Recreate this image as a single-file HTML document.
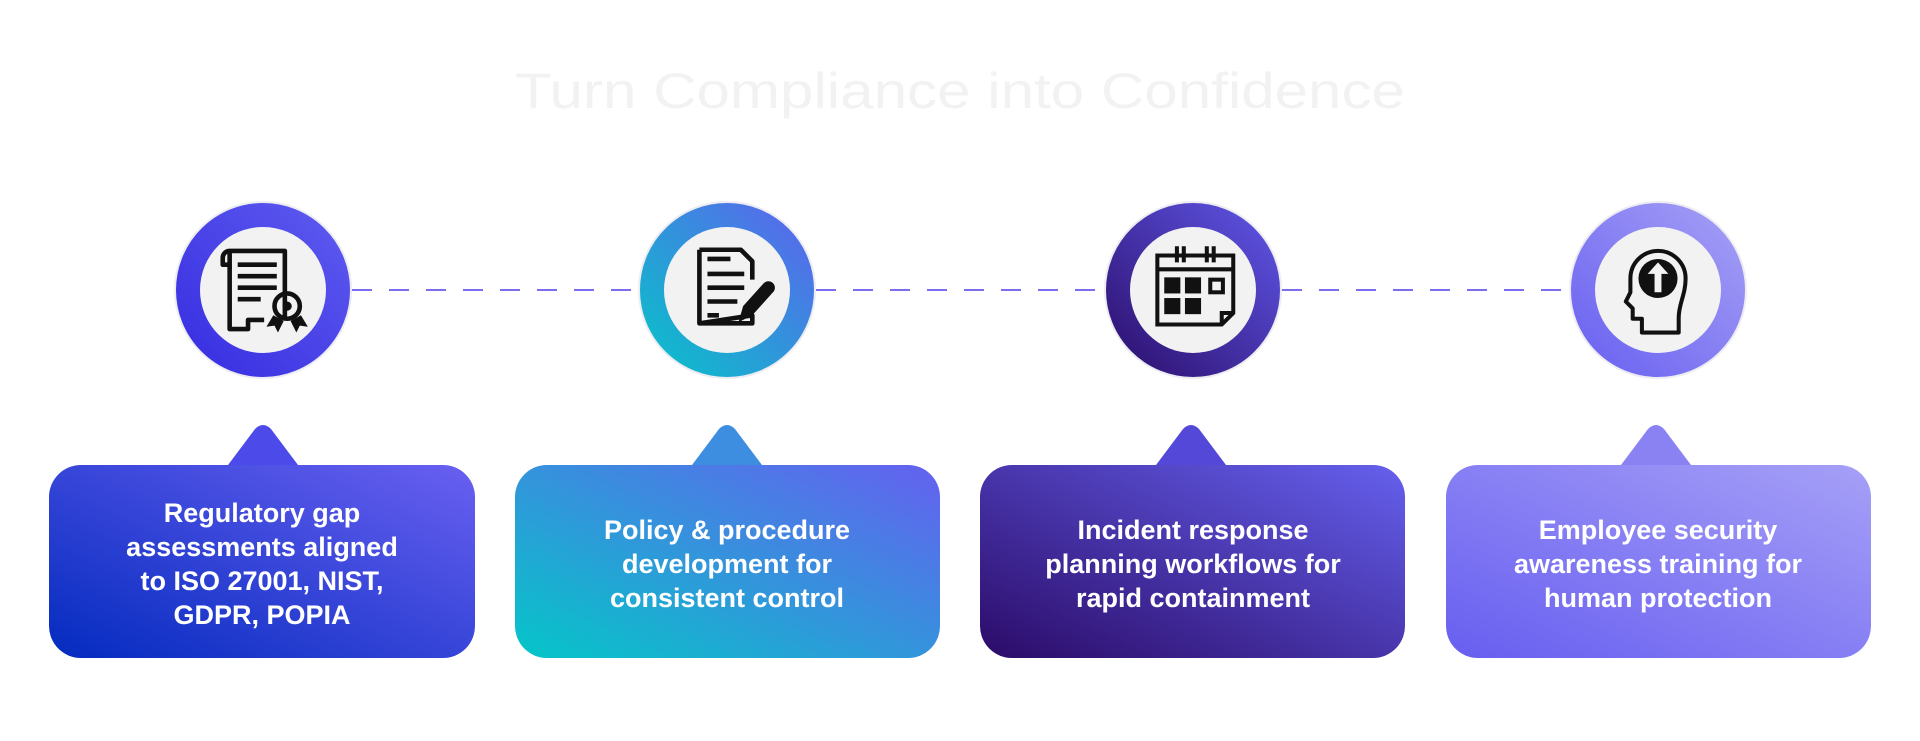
<!DOCTYPE html>
<html><head><meta charset="utf-8"><style>
html,body{margin:0;padding:0;background:#fff;width:1920px;height:741px;overflow:hidden}
svg{display:block}
</style></head><body>
<svg width="1920" height="741" viewBox="0 0 1920 741" xmlns="http://www.w3.org/2000/svg">
<defs>
<linearGradient id="c1" x1="1" y1="0" x2="0" y2="1"><stop offset="0" stop-color="#5f5cf0"/><stop offset="1" stop-color="#352ce0"/></linearGradient>
<linearGradient id="b1" x1="0" y1="1" x2="1" y2="0"><stop offset="0" stop-color="#042bbf"/><stop offset="1" stop-color="#6960f1"/></linearGradient>
<linearGradient id="c2" x1="1" y1="0" x2="0" y2="1"><stop offset="0" stop-color="#6060ef"/><stop offset="1" stop-color="#04c6c8"/></linearGradient>
<linearGradient id="b2" x1="0" y1="1" x2="1" y2="0"><stop offset="0" stop-color="#04c6c8"/><stop offset="1" stop-color="#6560f0"/></linearGradient>
<linearGradient id="c3" x1="1" y1="0" x2="0" y2="1"><stop offset="0" stop-color="#6159eb"/><stop offset="1" stop-color="#2a0c68"/></linearGradient>
<linearGradient id="b3" x1="0" y1="1" x2="1" y2="0"><stop offset="0" stop-color="#2b0b68"/><stop offset="1" stop-color="#6560ed"/></linearGradient>
<linearGradient id="c4" x1="1" y1="0" x2="0" y2="1"><stop offset="0" stop-color="#a7a2f6"/><stop offset="1" stop-color="#675ef0"/></linearGradient>
<linearGradient id="b4" x1="0" y1="1" x2="1" y2="0"><stop offset="0" stop-color="#675ef0"/><stop offset="1" stop-color="#a6a0f7"/></linearGradient>
</defs>

<text x="960" y="108" text-anchor="middle" font-family="Liberation Sans, sans-serif" font-size="50" fill="#f2f2f2" textLength="890" lengthAdjust="spacingAndGlyphs">Turn Compliance into Confidence</text>

<g stroke="#7a6df0" stroke-width="2" stroke-dasharray="20 17">
<line x1="352" y1="290" x2="638" y2="290"/>
<line x1="816" y1="290" x2="1104" y2="290"/>
<line x1="1282" y1="290" x2="1570" y2="290"/>
</g>

<g stroke="#ececf2" stroke-width="2">
<circle cx="263" cy="290" r="88" fill="url(#c1)"/>
<circle cx="727" cy="290" r="88" fill="url(#c2)"/>
<circle cx="1193" cy="290" r="88" fill="url(#c3)"/>
<circle cx="1658" cy="290" r="88" fill="url(#c4)"/>
</g>
<g fill="#f2f2f2">
<circle cx="263" cy="290" r="63"/>
<circle cx="727" cy="290" r="63"/>
<circle cx="1193" cy="290" r="63"/>
<circle cx="1658" cy="290" r="63"/>
</g>

<g transform="translate(263 290) scale(1.15) translate(-263 -290)">
<g fill="none" stroke="#111" stroke-width="4" stroke-linejoin="round">
<path d="M234 256 h48 v58 M234 256 a6 6 0 0 0 -6 6 v6 h6 v-12 M234 268 v56 h16 v-8 h14"/>
<path d="M241 268h34M241 278h34M241 288h34M241 298h20"/>
<circle cx="284" cy="304" r="11"/>
</g>
<circle cx="284" cy="304" r="4" fill="#111"/>
<path d="M272 312 l-6 10 l7 -1 l3 6 l5 -10 Z M296 312 l6 10 l-7 -1 l-3 6 l-5 -10 Z" fill="#111"/>
</g>

<g transform="translate(727 290) scale(1.15) translate(-727 -290)">
<g fill="none" stroke="#111" stroke-width="4" stroke-linejoin="round">
<path d="M703 255 h36 l10 10 v16 M749 312 v7 h-46 z M703 255 v64"/>
<path d="M710 263h20M710 276h32M710 288h32M710 300h26M710 312h10"/>
</g>
<path d="M737 318 l4 -14 l18 -20 a5 5 0 0 1 8 8 l-18 20 z" fill="#111"/>
</g>

<g transform="translate(1193 290) scale(1.15) translate(-1193 -290)">
<g fill="none" stroke="#111" stroke-width="3.5">
<path d="M1162 260 h66 v50 l-10 10 h-56 z M1218 320 v-10 h10"/>
<path d="M1162 272 h66"/>
<path d="M1179 252 v14 M1185 252 v14 M1205 252 v14 M1211 252 v14"/>
<rect x="1208" y="281" width="11" height="11"/>
</g>
<g fill="#111">
<rect x="1168" y="279" width="14" height="14"/><rect x="1186" y="279" width="14" height="14"/>
<rect x="1168" y="297" width="14" height="14"/><rect x="1186" y="297" width="14" height="14"/>
</g>
</g>

<g transform="translate(1658 290) scale(1.15) translate(-1658 -290)">
<path d="M1644 327 v-12 h-8 v-9 l-6 -6 l4 -8 v-12 a24 24 0 0 1 48 0 c0 14 -6 22 -6 34 v13 z" fill="none" stroke="#111" stroke-width="3.5" stroke-linejoin="round"/>
<circle cx="1658" cy="280" r="17" fill="#111"/>
<path d="M1658 266 l-9 10 h6 v16 h6 v-16 h6 z" fill="#f2f2f2"/>
</g>

<g>
<path d="M228 465 l27 -36 q8 -8 16 0 l27 36 z" fill="#4c4ae8"/>
<rect x="49" y="465" width="426" height="193" rx="32" fill="url(#b1)"/>
<path d="M692 465 l27 -36 q8 -8 16 0 l27 36 z" fill="#3d8ee0"/>
<rect x="515" y="465" width="425" height="193" rx="32" fill="url(#b2)"/>
<path d="M1156 465 l27 -36 q8 -8 16 0 l27 36 z" fill="#5348d8"/>
<rect x="980" y="465" width="425" height="193" rx="32" fill="url(#b3)"/>
<path d="M1621 465 l27 -36 q8 -8 16 0 l27 36 z" fill="#8a82f3"/>
<rect x="1446" y="465" width="425" height="193" rx="32" fill="url(#b4)"/>
</g>

<g font-family="Liberation Sans, sans-serif" font-size="27" font-weight="600" fill="#fff" text-anchor="middle">
<text x="262" y="522">Regulatory gap</text>
<text x="262" y="556">assessments aligned</text>
<text x="262" y="590">to ISO 27001, NIST,</text>
<text x="262" y="624">GDPR, POPIA</text>
<text x="727" y="539">Policy &amp; procedure</text>
<text x="727" y="573">development for</text>
<text x="727" y="607">consistent control</text>
<text x="1193" y="539">Incident response</text>
<text x="1193" y="573">planning workflows for</text>
<text x="1193" y="607">rapid containment</text>
<text x="1658" y="539">Employee security</text>
<text x="1658" y="573">awareness training for</text>
<text x="1658" y="607">human protection</text>
</g>
</svg>
</body></html>
